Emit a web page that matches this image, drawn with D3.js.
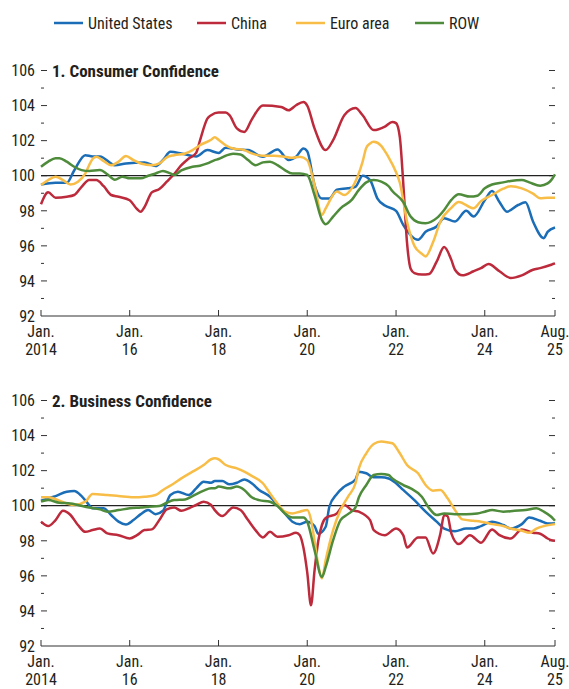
<!DOCTYPE html>
<html>
<head>
<meta charset="utf-8">
<script src="https://cdn.jsdelivr.net/npm/d3@7/dist/d3.min.js"></script>
<style>
  body { margin: 0; background: #fff; }
  svg text { font-family: "Liberation Sans Narrow", "Arial Narrow", "Roboto Condensed", sans-serif; fill: #231f20; }
</style>
</head>
<body>
<svg id="chart" width="569" height="689"></svg>
<script>
// Confidence indices, monthly, Jan. 2014 = month 0 ... Aug. 2025 = month 139
// each entry: [month, index value]
const seriesNames = ['United States', 'China', 'Euro area', 'ROW'];
const seriesColors = ['#1a6db6', '#bc2a3b', '#f8bd47', '#4e8b3a'];

const consumerUS = [[0,99.5],[4,99.6],[7,99.6],[9,100.3],[12,101.17],[14,101.1],[16,101.1],[20,100.6],[23,100.7],[28,100.76],[31,100.55],[33,100.9],[35,101.36],[38,101.27],[42,101.1],[45,101.46],[48,101.3],[50,101.6],[53,101.5],[56,101.46],[60,101.08],[64,101.5],[67,100.9],[69,101.08],[71,101.55],[72,101.4],[74,99.47],[76,98.7],[78,98.7],[80,99.2],[83,99.28],[85,99.37],[87,100.0],[89,99.75],[91,98.7],[93,98.3],[96,98.0],[98,97.2],[102,96.35],[104,96.8],[107,97.1],[109,97.58],[112,97.39],[115,98.0],[117,97.67],[120,98.6],[122,99.13],[124,98.5],[126,97.95],[129,98.33],[131,98.48],[133,97.39],[136,96.44],[137,96.8],[139,97.05]];
const consumerChina = [[0,98.37],[2,99.05],[4,98.75],[7,98.8],[9,98.9],[11,99.37],[13,99.75],[15,99.75],[17,99.4],[19,98.9],[21,98.8],[24,98.6],[26,98.1],[27,97.95],[28,98.2],[30,99.05],[32,99.24],[34,99.66],[36,100.1],[38,100.6],[40,100.98],[42,101.3],[43,102.0],[45,103.26],[46,103.45],[48,103.6],[50,103.6],[51,103.45],[53,102.7],[55,102.5],[57,103.2],[60,104.0],[65,103.92],[67,103.73],[69,104.02],[71,104.2],[72,104.0],[74,102.7],[77,101.46],[79,102.03],[82,103.45],[85,103.86],[87,103.45],[90,102.6],[93,102.8],[95,103.07],[96,103.0],[97,102.2],[98,99.6],[99,96.2],[100,94.7],[101,94.45],[103,94.36],[105,94.4],[107,95.1],[109,95.93],[111,95.2],[112,94.64],[114,94.32],[117,94.55],[119,94.73],[121,94.96],[124,94.55],[127,94.17],[130,94.32],[133,94.64],[135,94.73],[138,94.92],[139,95.0]];
const consumerEuro = [[0,99.47],[2,99.75],[4,99.94],[6,99.75],[8,99.5],[10,99.66],[12,100.13],[13,100.6],[14,100.95],[15,101.08],[17,100.83],[19,100.6],[21,100.8],[23,101.12],[25,100.89],[27,100.7],[30,100.6],[32,100.7],[34,101.05],[36,101.17],[39,101.27],[41,101.46],[43,101.74],[46,102.05],[47,102.2],[48,102.05],[50,101.74],[52,101.55],[55,101.46],[57,101.27],[60,101.14],[63,101.14],[66,101.08],[68,101.02],[70,101.08],[72,100.89],[74,99.47],[76,97.77],[77,98.14],[80,99.1],[82,98.9],[84,99.28],[87,100.8],[88,101.6],[89,101.84],[90,101.93],[92,101.7],[93,101.4],[94,101.05],[96,100.2],[97,99.6],[99,97.39],[101,96.0],[103,95.55],[104,95.4],[106,96.2],[108,97.39],[111,98.17],[113,98.5],[117,98.14],[119,98.55],[122,98.9],[125,99.26],[127,99.4],[130,99.28],[133,98.98],[135,98.71],[137,98.75],[139,98.75]];
const consumerROW = [[0,100.51],[2,100.8],[4,101.0],[5,101.0],[7,100.8],[9,100.51],[11,100.32],[13,100.27],[16,100.32],[18,100.08],[20,99.77],[22,99.94],[24,99.85],[27,99.85],[29,100.0],[31,100.13],[33,100.27],[35,100.13],[36,100.04],[38,100.3],[41,100.51],[43,100.57],[45,100.7],[47,100.89],[48,100.95],[50,101.14],[52,101.25],[54,101.21],[56,100.89],[58,100.6],[60,100.76],[62,100.8],[64,100.6],[66,100.32],[68,100.13],[70,100.13],[72,100.04],[74,98.9],[76,97.48],[77,97.23],[79,97.67],[81,98.14],[84,98.62],[86,99.19],[88,99.62],[90,99.75],[92,99.66],[94,99.4],[95,99.13],[98,98.5],[100,97.67],[102,97.35],[104,97.29],[107,97.58],[109,98.05],[111,98.62],[113,98.94],[116,98.81],[118,98.86],[120,99.28],[122,99.5],[125,99.62],[127,99.7],[130,99.75],[132,99.62],[135,99.43],[137,99.56],[138,99.75],[139,100.08]];

const businessUS = [[0,100.29],[2,100.42],[4,100.55],[7,100.8],[9,100.84],[11,100.55],[13,100.04],[14,99.85],[17,99.85],[19,99.47],[21,99.09],[23,98.93],[25,99.18],[27,99.52],[29,99.75],[31,99.52],[33,99.71],[35,100.61],[37,100.8],[40,100.61],[42,100.99],[44,101.37],[46,101.31],[47,101.41],[49,101.41],[51,101.22],[53,101.31],[55,101.5],[57,101.28],[59,100.9],[62,100.51],[64,100.04],[66,99.56],[68,99.09],[70,98.95],[72,99.09],[74,98.84],[75,98.4],[77,98.8],[78,99.94],[80,100.67],[82,101.09],[85,101.5],[86,101.94],[88,101.85],[90,101.62],[92,101.62],[94,101.55],[96,101.28],[98,100.9],[101,100.32],[104,99.66],[107,99.09],[109,98.7],[112,98.55],[115,98.7],[117,98.7],[119,98.84],[122,99.09],[125,98.9],[127,98.7],[130,98.95],[132,99.33],[135,99.14],[137,98.99],[139,98.99]];
const businessChina = [[0,99.09],[2,98.84],[4,99.18],[6,99.71],[8,99.47],[10,98.9],[12,98.51],[14,98.61],[16,98.7],[18,98.42],[21,98.32],[24,98.13],[26,98.32],[28,98.61],[30,98.65],[32,99.18],[34,99.79],[36,99.9],[38,99.71],[40,99.85],[42,100.04],[44,100.23],[46,100.04],[47,99.75],[49,99.41],[52,99.9],[54,99.75],[56,99.18],[58,98.61],[60,98.19],[62,98.51],[64,98.23],[67,98.32],[69,98.46],[70,98.32],[71,97.6],[72,96.2],[73,94.32],[74,96.3],[75,98.0],[76,98.9],[77,99.3],[80,99.56],[82,100.04],[84,99.75],[86,99.66],[89,99.18],[90,98.61],[93,98.32],[96,98.7],[98,98.32],[99,97.62],[102,98.19],[104,98.19],[106,97.28],[108,98.42],[109,99.47],[110,99.4],[111,98.42],[113,97.81],[116,98.32],[119,97.89],[122,98.65],[124,98.32],[127,98.13],[130,98.65],[133,98.46],[135,98.4],[137,98.13],[138,98.04],[139,98.0]];
const businessEuro = [[0,100.48],[2,100.48],[5,100.29],[7,100.13],[9,100.04],[12,100.23],[14,100.67],[18,100.61],[21,100.55],[25,100.48],[28,100.51],[31,100.61],[33,100.9],[36,101.28],[38,101.56],[41,101.94],[44,102.32],[46,102.65],[47,102.7],[48,102.65],[50,102.32],[53,102.13],[55,101.94],[57,101.7],[60,101.28],[62,100.7],[64,100.13],[66,99.66],[68,99.56],[70,99.66],[72,99.75],[73,99.2],[74,98.0],[75,96.6],[76,95.85],[77,96.9],[79,98.61],[81,99.75],[83,100.51],[85,101.28],[86,102.13],[88,102.99],[90,103.52],[92,103.66],[94,103.6],[95,103.56],[97,102.99],[99,102.32],[102,101.85],[104,101.18],[106,100.86],[108,100.9],[110,100.42],[112,99.75],[114,99.22],[117,99.14],[119,99.09],[122,98.95],[125,98.84],[127,98.7],[130,98.57],[132,98.46],[134,98.7],[136,98.84],[139,98.95]];
const businessROW = [[0,100.23],[2,100.32],[5,100.17],[8,100.13],[10,100.04],[13,99.9],[16,99.79],[18,99.66],[21,99.75],[24,99.85],[27,99.9],[29,99.94],[32,99.98],[34,100.17],[36,100.32],[39,100.36],[41,100.55],[44,100.86],[46,100.99],[47,100.99],[48,101.09],[51,100.99],[53,101.09],[55,100.9],[57,100.48],[59,100.32],[62,100.23],[64,99.98],[66,99.56],[68,99.33],[71,99.33],[72,99.09],[74,97.47],[76,95.94],[77,96.51],[79,98.04],[81,99.18],[83,99.52],[85,99.9],[86,100.48],[88,101.18],[90,101.75],[92,101.81],[94,101.75],[95,101.56],[98,101.18],[100,100.99],[103,100.51],[105,99.85],[107,99.47],[109,99.56],[112,99.52],[115,99.52],[118,99.56],[120,99.66],[122,99.75],[125,99.66],[128,99.71],[131,99.75],[134,99.85],[136,99.66],[138,99.37],[139,99.14]];

const xTickMonths = [0, 24, 48, 72, 96, 120, 139];
const xTickTop = ['Jan.', 'Jan.', 'Jan.', 'Jan.', 'Jan.', 'Jan.', 'Aug.'];
const xTickBottom = ['2014', '16', '18', '20', '22', '24', '25'];
const yTicks = [92, 94, 96, 98, 100, 102, 104, 106];

const panels = [
  { title: '1. Consumer Confidence', top: 70.5, bottom: 316, series: [consumerUS, consumerChina, consumerEuro, consumerROW] },
  { title: '2. Business Confidence', top: 400.5, bottom: 646, series: [businessUS, businessChina, businessEuro, businessROW] }
];

const start = new Date(2014, 0, 1);
const monthDate = m => d3.timeMonth.offset(start, m);

const svg = d3.select('#chart');
const left = 41, right = 555;
const x = d3.scaleTime().domain([monthDate(0), monthDate(139)]).range([left, right]);

// Legend
const legendX = [54, 197, 296, 415];
const legend = svg.append('g');
seriesNames.forEach((name, i) => {
  legend.append('line')
    .attr('x1', legendX[i]).attr('x2', legendX[i] + 29)
    .attr('y1', 23).attr('y2', 23)
    .attr('stroke', seriesColors[i]).attr('stroke-width', 2.5);
  legend.append('text')
    .attr('x', legendX[i] + 34).attr('y', 28.5)
    .attr('font-size', 16)
    .text(name);
});

panels.forEach(p => {
  const y = d3.scaleLinear().domain([92, 106]).range([p.bottom, p.top]);
  const g = svg.append('g');

  // y ticks, left (labels) and right
  const minor = d3.range(93, 106, 2);
  g.append('g').selectAll('line').data(yTicks.filter(v => v > 92)).enter().append('line')
    .attr('x1', left).attr('x2', left + 6)
    .attr('y1', d => y(d)).attr('y2', d => y(d))
    .attr('stroke', '#333').attr('stroke-width', 1);
  g.append('g').selectAll('line').data(minor).enter().append('line')
    .attr('x1', left).attr('x2', left + 3)
    .attr('y1', d => y(d)).attr('y2', d => y(d))
    .attr('stroke', '#333').attr('stroke-width', 1);
  g.append('g').selectAll('line').data(yTicks.filter(v => v > 92)).enter().append('line')
    .attr('x1', right - 6).attr('x2', right)
    .attr('y1', d => y(d)).attr('y2', d => y(d))
    .attr('stroke', '#333').attr('stroke-width', 1);
  g.append('g').selectAll('line').data(minor).enter().append('line')
    .attr('x1', right - 3).attr('x2', right)
    .attr('y1', d => y(d)).attr('y2', d => y(d))
    .attr('stroke', '#333').attr('stroke-width', 1);
  g.append('g').selectAll('text').data(yTicks).enter().append('text')
    .attr('x', 35).attr('y', d => y(d)).attr('dy', '0.36em')
    .attr('text-anchor', 'end').attr('font-size', 16)
    .text(d => d);

  // title
  g.append('text')
    .attr('x', 52).attr('y', y(106)).attr('dy', '0.36em')
    .attr('font-size', 17).attr('font-weight', 'bold')
    .text(p.title);

  // x axis
  g.append('line')
    .attr('x1', left).attr('x2', right)
    .attr('y1', y(92)).attr('y2', y(92))
    .attr('stroke', '#333').attr('stroke-width', 1.2);
  g.append('g').selectAll('line').data(xTickMonths).enter().append('line')
    .attr('x1', d => x(monthDate(d))).attr('x2', d => x(monthDate(d)))
    .attr('y1', y(92)).attr('y2', y(92) - 6)
    .attr('stroke', '#333').attr('stroke-width', 1);
  g.append('g').selectAll('text').data(xTickMonths).enter().append('text')
    .attr('x', d => x(monthDate(d))).attr('y', y(92) + 21)
    .attr('text-anchor', 'middle').attr('font-size', 16)
    .text((d, i) => xTickTop[i]);
  g.append('g').selectAll('text').data(xTickMonths).enter().append('text')
    .attr('x', d => x(monthDate(d))).attr('y', y(92) + 39)
    .attr('text-anchor', 'middle').attr('font-size', 16)
    .text((d, i) => xTickBottom[i]);

  // 100 reference line
  g.append('line')
    .attr('x1', left).attr('x2', right)
    .attr('y1', y(100)).attr('y2', y(100))
    .attr('stroke', '#222').attr('stroke-width', 1.2);

  // lines
  const line = d3.line()
    .x(d => x(monthDate(d[0])))
    .y(d => y(d[1]))
    .curve(d3.curveMonotoneX);
  p.series.forEach((s, i) => {
    g.append('path')
      .datum(s)
      .attr('fill', 'none')
      .attr('stroke', seriesColors[i])
      .attr('stroke-width', 2.5)
      .attr('stroke-linejoin', 'round')
      .attr('d', line);
  });
});
</script>
</body>
</html>
